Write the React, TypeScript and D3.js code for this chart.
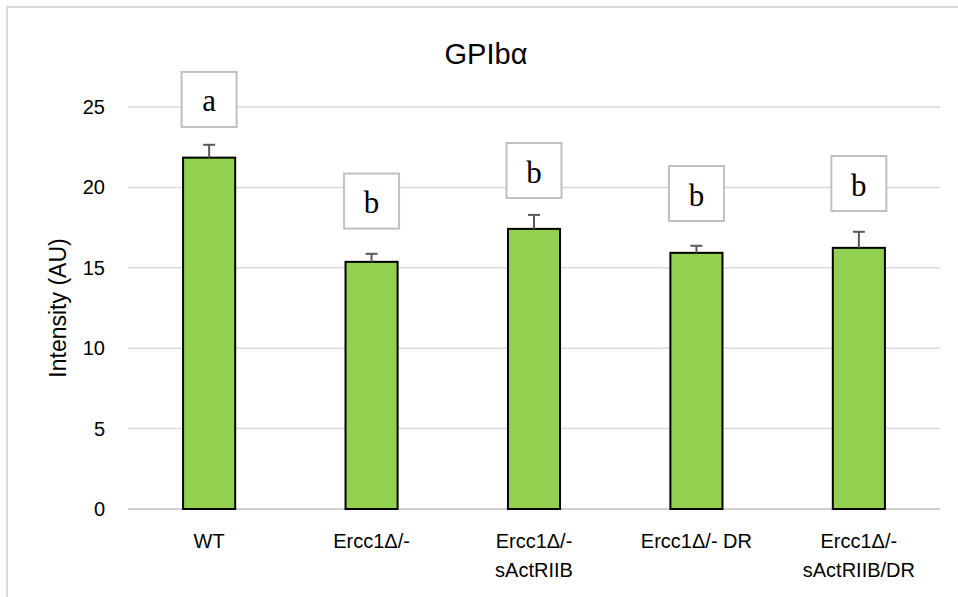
// Bar chart of GPIbα intensity with error bars and significance letters
import React, { useEffect, useRef } from "react";
import * as d3 from "d3";

// Data
const categories = [
  ["WT"],
  ["Ercc1Δ/-"],
  ["Ercc1Δ/-", "sActRIIB"],
  ["Ercc1Δ/- DR"],
  ["Ercc1Δ/-", "sActRIIB/DR"],
];
const means = [21.85, 15.37, 17.42, 15.93, 16.24];
const errors = [0.8, 0.5, 0.87, 0.44, 1.0];
const letters = ["a", "b", "b", "b", "b"];
// where the centre of each letter box sits, in axis units
const letterLevels = [25.47, 19.15, 21.05, 19.62, 20.24];
const yTicks = [0, 5, 10, 15, 20, 25];

const W = 958;
const H = 597;

const App: React.FC = () => {
  const svgRef = useRef<SVGSVGElement | null>(null);

  useEffect(() => {
    const svg = d3.select(svgRef.current);
    svg.selectAll("*").remove();

    const font = "'Liberation Sans', Arial, sans-serif";

    // chart frame (only top and left edges are visible)
    svg
      .append("rect")
      .attr("x", 7)
      .attr("y", 7)
      .attr("width", 1200)
      .attr("height", 1200)
      .attr("fill", "none")
      .attr("stroke", "#d9d9d9")
      .attr("stroke-width", 2);

    const plot = { left: 128, right: 940, top: 107, bottom: 509 };

    const x = d3
      .scaleBand<number>()
      .domain(d3.range(categories.length))
      .range([plot.left, plot.right])
      .paddingInner(0.667)
      .paddingOuter(0.333);

    const y = d3.scaleLinear().domain([0, 25]).range([plot.bottom, plot.top]);

    const center = (i: number) => (x(i) as number) + x.bandwidth() / 2;

    // gridlines
    svg
      .append("g")
      .selectAll("line")
      .data(yTicks)
      .enter()
      .append("line")
      .attr("x1", plot.left)
      .attr("x2", plot.right)
      .attr("y1", (d) => y(d))
      .attr("y2", (d) => y(d))
      .attr("stroke", (d) => (d === 0 ? "#d0d0d0" : "#d9d9d9"))
      .attr("stroke-width", (d) => (d === 0 ? 2 : 1.5));

    // y tick labels
    svg
      .append("g")
      .selectAll("text")
      .data(yTicks)
      .enter()
      .append("text")
      .attr("x", 105)
      .attr("y", (d) => y(d) + 7)
      .attr("text-anchor", "end")
      .style("font-family", font)
      .style("font-size", "20px")
      .attr("fill", "#000")
      .text((d) => d);

    // y axis title
    svg
      .append("text")
      .attr("transform", `translate(66, ${(plot.top + plot.bottom) / 2}) rotate(-90)`)
      .attr("text-anchor", "middle")
      .style("font-family", font)
      .style("font-size", "23px")
      .attr("fill", "#000")
      .text("Intensity (AU)");

    // title
    svg
      .append("text")
      .attr("x", 486)
      .attr("y", 64)
      .attr("text-anchor", "middle")
      .style("font-family", font)
      .style("font-size", "29px")
      .attr("fill", "#000")
      .text("GPIbα");

    // bars
    svg
      .append("g")
      .selectAll("rect")
      .data(means)
      .enter()
      .append("rect")
      .attr("x", (_, i) => (x(i) as number) + 1)
      .attr("y", (d) => y(d))
      .attr("width", x.bandwidth() - 2)
      .attr("height", (d) => y(0) - y(d))
      .attr("fill", "#92d050")
      .attr("stroke", "#000")
      .attr("stroke-width", 2);

    // error bars (upper only)
    const err = svg.append("g").attr("stroke", "#595959").attr("stroke-width", 2);
    means.forEach((m, i) => {
      const cx = center(i);
      err
        .append("line")
        .attr("x1", cx)
        .attr("x2", cx)
        .attr("y1", y(m))
        .attr("y2", y(m + errors[i]));
      err
        .append("line")
        .attr("x1", cx - 6)
        .attr("x2", cx + 6)
        .attr("y1", y(m + errors[i]))
        .attr("y2", y(m + errors[i]));
    });

    // significance letter boxes
    const box = 55;
    letters.forEach((l, i) => {
      const cx = center(i);
      const cy = y(letterLevels[i]);
      svg
        .append("rect")
        .attr("x", cx - box / 2)
        .attr("y", cy - box / 2)
        .attr("width", box)
        .attr("height", box)
        .attr("fill", "#fff")
        .attr("stroke", "#c0c0c0")
        .attr("stroke-width", 2);
      svg
        .append("text")
        .attr("x", cx)
        .attr("y", cy + 12)
        .attr("text-anchor", "middle")
        .style("font-family", "'Liberation Serif', 'Times New Roman', serif")
        .style("font-size", "31px")
        .attr("fill", "#000")
        .text(l);
    });

    // x labels
    categories.forEach((lines, i) => {
      const t = svg
        .append("text")
        .attr("text-anchor", "middle")
        .style("font-family", font)
        .style("font-size", "20px")
        .attr("fill", "#000");
      lines.forEach((ln, j) => {
        t.append("tspan")
          .attr("x", center(i))
          .attr("y", 548 + j * 29)
          .text(ln);
      });
    });
  }, []);

  return (
    <svg
      ref={svgRef}
      width={W}
      height={H}
      style={{ position: "absolute", left: 0, top: 0, background: "#fff" }}
    />
  );
};

export default App;
